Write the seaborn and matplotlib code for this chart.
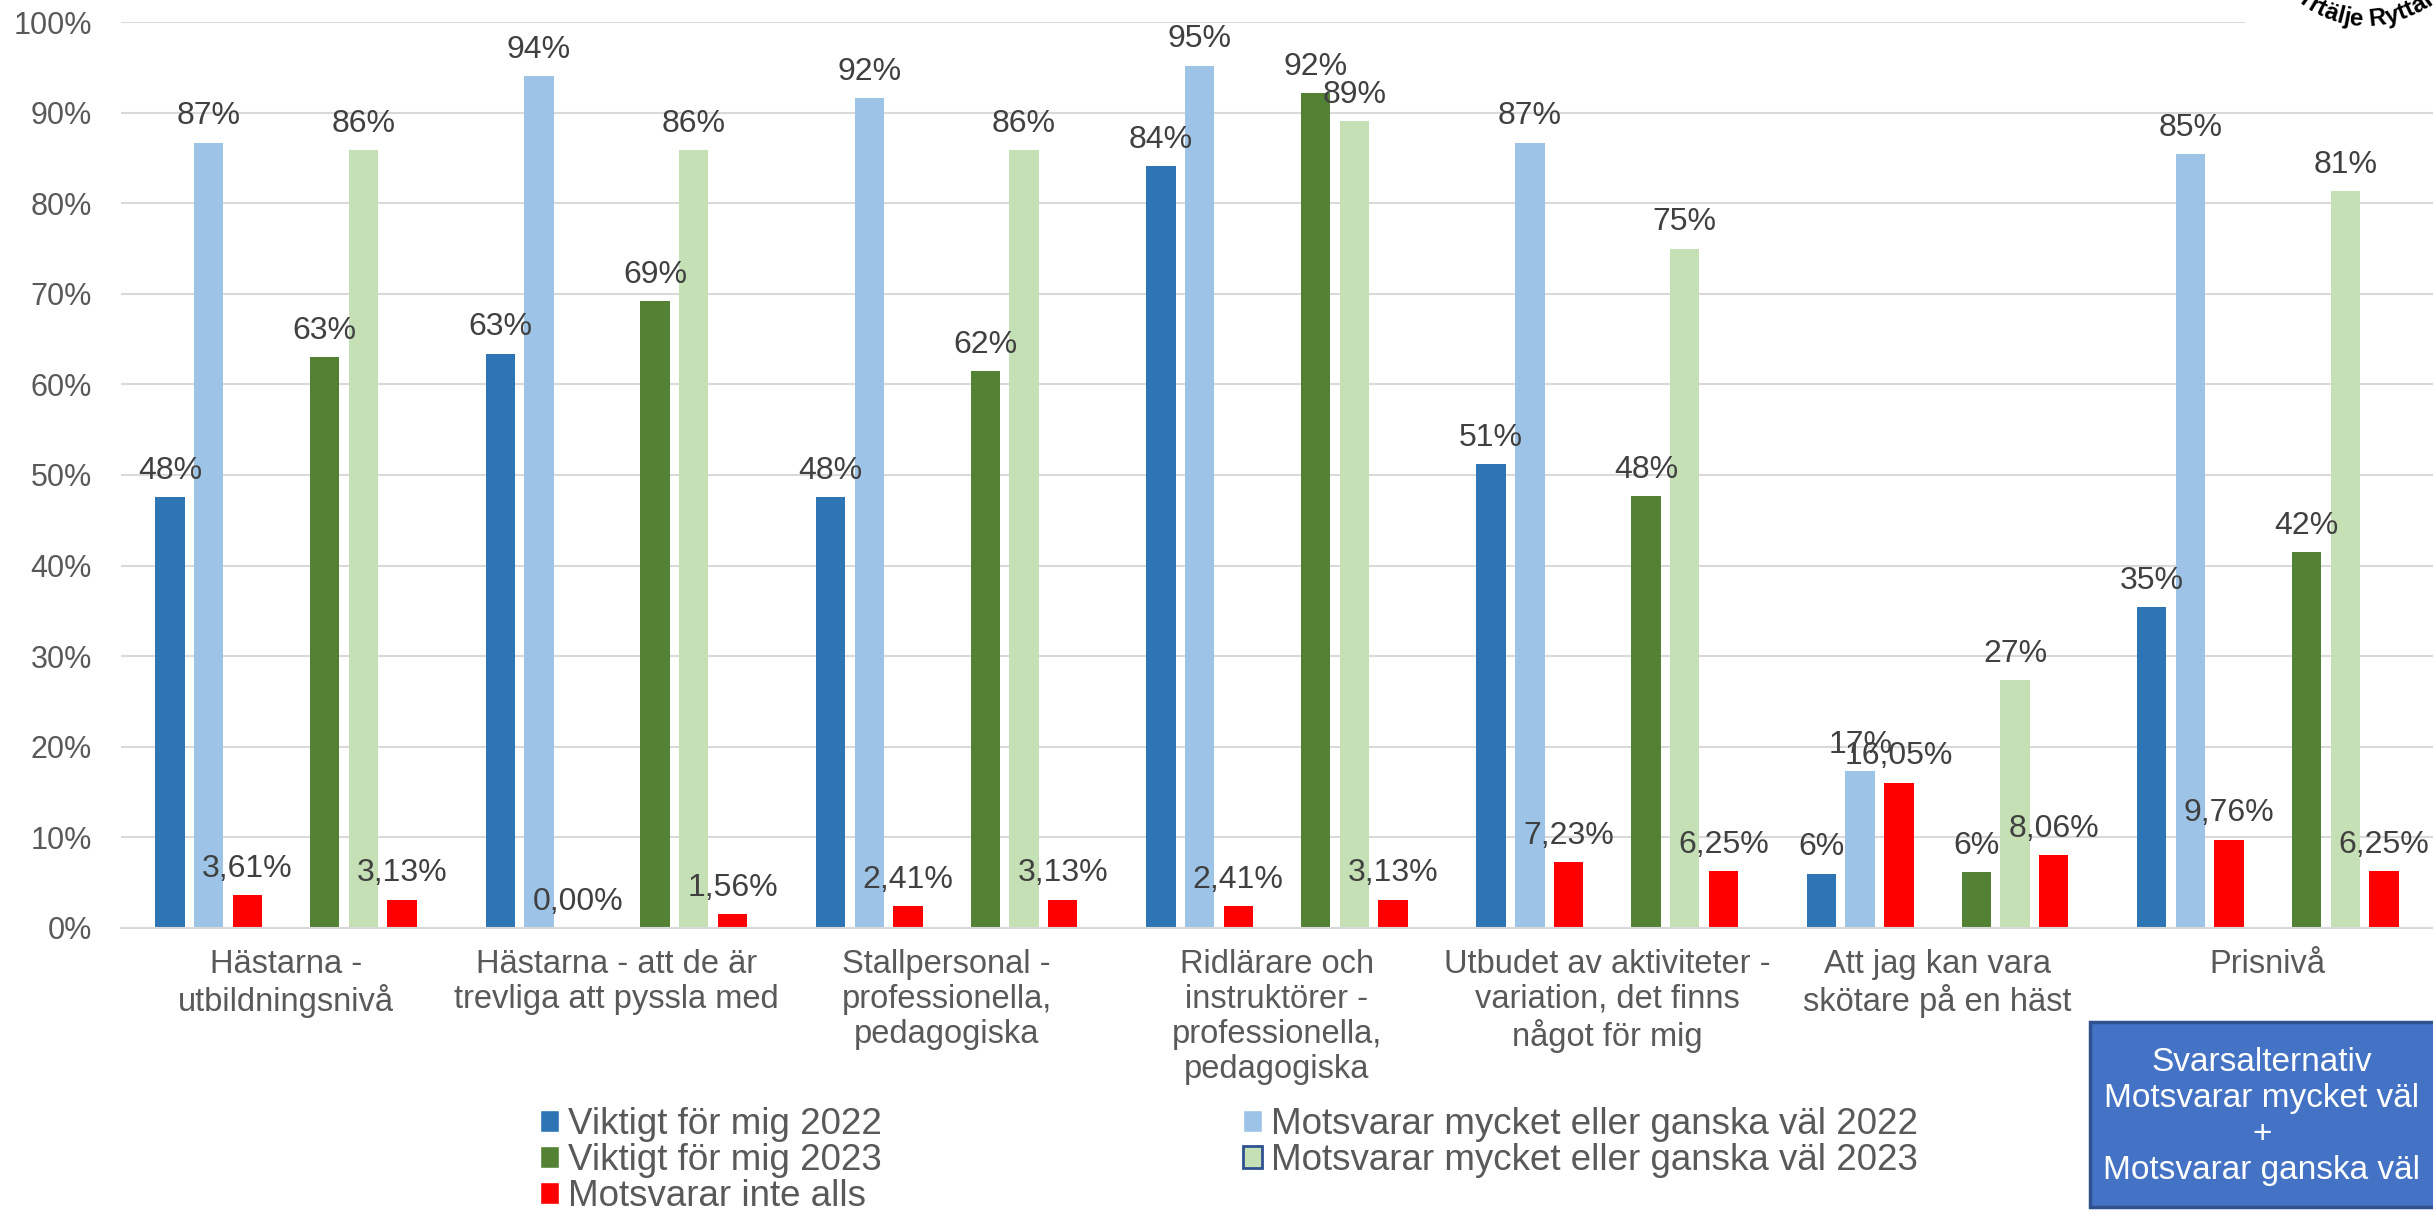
import pandas as pd
import matplotlib.pyplot as plt
import seaborn as sns
import numpy as np
from matplotlib.patches import Patch, Rectangle
from matplotlib.colors import to_hex

kategorier = [
    "Hästarna -\nutbildningsnivå",
    "Hästarna - att de är\ntrevliga att pyssla med",
    "Stallpersonal -\nprofessionella,\npedagogiska",
    "Ridlärare och\ninstruktörer -\nprofessionella,\npedagogiska",
    "Utbudet av aktiviteter -\nvariation, det finns\nnågot för mig",
    "Att jag kan vara\nskötare på en häst",
    "Prisnivå",
]
serier = [
    "Viktigt för mig 2022",
    "Motsvarar mycket eller ganska väl 2022",
    "Motsvarar inte alls 2022",
    "Viktigt för mig 2023",
    "Motsvarar mycket eller ganska väl 2023",
    "Motsvarar inte alls 2023",
]
viktigt_2022 = [47.6, 63.4, 47.6, 84.1, 51.2, 6.0, 35.4]
motsvarar_2022 = [86.7, 94.0, 91.6, 95.2, 86.7, 17.3, 85.4]
inte_alls_2022 = [3.61, 0.00, 2.41, 2.41, 7.23, 16.05, 9.76]
viktigt_2023 = [63.0, 69.2, 61.5, 92.2, 47.7, 6.2, 41.5]
motsvarar_2023 = [85.9, 85.9, 85.9, 89.1, 75.0, 27.4, 81.3]
inte_alls_2023 = [3.13, 1.56, 3.13, 3.13, 6.25, 8.06, 6.25]

varden = [viktigt_2022, motsvarar_2022, inte_alls_2022,
          viktigt_2023, motsvarar_2023, inte_alls_2023]
df = pd.DataFrame([
    {"Kategori": k, "Serie": s, "Andel": v}
    for s, vals in zip(serier, varden)
    for k, v in zip(kategorier, vals)
])

farger = {
    serier[0]: "#2E75B6",
    serier[1]: "#9DC3E6",
    serier[2]: "#FF0000",
    "tom": "#FFFFFF",
    serier[3]: "#548235",
    serier[4]: "#C5E0B4",
    serier[5]: "#FF0000",
}
hue_ordning = serier[:3] + ["tom"] + serier[3:]

sns.set_style("white")
plt.rcParams["font.family"] = ["Liberation Sans", "DejaVu Sans"]

fig, ax = plt.subplots(figsize=(24.33, 12.17), dpi=100)
fig.subplots_adjust(left=0.0497, right=1.0, bottom=0.2375, top=0.9819)

sns.barplot(data=df, x="Kategori", y="Andel", hue="Serie", order=kategorier,
            hue_order=hue_ordning, palette=farger, saturation=1, width=0.82,
            gap=0.24, linewidth=0, errorbar=None, legend=False, ax=ax)

# dataetiketter
for c in ax.containers:
    if len(c) == 0:
        continue
    etiketter = []
    for bar in c:
        v = bar.get_height()
        if to_hex(bar.get_facecolor()) == "#ff0000":
            etiketter.append(f"{v:.2f}%".replace(".", ","))
        else:
            etiketter.append(f"{v:.0f}%")
    ax.bar_label(c, labels=etiketter, padding=8, fontsize=23, color="#404040")

ax.set_ylim(0, 100)
ax.set_xlim(-0.5, 6.5)
ax.set_yticks(range(0, 101, 10))
ax.set_yticklabels([f"{t}%" for t in range(0, 101, 10)])
ax.set_xlabel("")
ax.set_ylabel("")
ax.yaxis.grid(True, color="#D9D9D9", lw=1.5)
ax.set_axisbelow(True)
for s in ["left", "top", "right"]:
    ax.spines[s].set_visible(False)
ax.spines["bottom"].set_color("#D9D9D9")
ax.spines["bottom"].set_linewidth(1.5)
ax.tick_params(axis="y", length=0, pad=21, labelsize=22, labelcolor="#595959")
ax.tick_params(axis="x", length=0, pad=15, labelsize=23.5, labelcolor="#595959")
for t in ax.get_xticklabels():
    t.set_linespacing(1.17)

# legend
handtag = [
    Patch(facecolor="#2E75B6", label="Viktigt för mig 2022"),
    Patch(facecolor="#548235", label="Viktigt för mig 2023"),
    Patch(facecolor="#FF0000", label="Motsvarar inte alls"),
    Patch(facecolor="#9DC3E6", label="Motsvarar mycket eller ganska väl 2022"),
    Patch(facecolor="#C5E0B4", edgecolor="#2F528F", lw=2,
          label="Motsvarar mycket eller ganska väl 2023"),
]
fig.legend(handles=handtag, loc="upper left", bbox_to_anchor=(0.222, 0.0905),
           ncol=2, frameon=False, fontsize=26.5, handlelength=0.52, handleheight=0.52,
           handletextpad=0.25, columnspacing=9.8, labelspacing=0.03, borderpad=0,
           borderaxespad=0, labelcolor="#595959")

# ruta nere till höger
fig.patches.append(Rectangle((0.859, 0.0082), 0.2, 0.152, transform=fig.transFigure,
                             facecolor="#4472C4", edgecolor="#2F528F", lw=2.5))
fig.text(0.9297, 0.0825, "Svarsalternativ\nMotsvarar mycket väl\n+\nMotsvarar ganska väl",
         ha="center", va="center", color="white", fontsize=24, linespacing=1.2)

# logga uppe till höger (avskuren)
W, H = 2433, 1217
fig.patches.append(Rectangle((2245 / W, 1 - 60 / H), 0.2, 0.2, transform=fig.transFigure,
                             facecolor="white", lw=0))
logo = "Norrtälje Ryttarförening"
bredd = {"N": .722, "o": .611, "r": .389, "t": .333, "ä": .556, "l": .278, "j": .278,
         "e": .556, " ": .278, "R": .722, "y": .556, "a": .556, "f": .333, "ö": .611,
         "n": .611, "i": .278, "g": .611}
em = 25.0
rb = 110
cx, cy = 2366, H + 84
pos = np.cumsum([0] + [bredd[ch] for ch in logo[:-1]])
mitt = pos + np.array([bredd[ch] for ch in logo]) / 2
mitt = (mitt - mitt[9]) * em
for ch, s in zip(logo, mitt):
    th = -90 + np.degrees(s / rb)
    x = cx + rb * np.cos(np.radians(th))
    y = cy + rb * np.sin(np.radians(th))
    fig.text(x / W, y / H, ch, ha="center", va="baseline", rotation=th + 90,
             rotation_mode="anchor", fontsize=17.5, fontweight="bold", color="black")

fig.savefig("out.png", dpi=100)
